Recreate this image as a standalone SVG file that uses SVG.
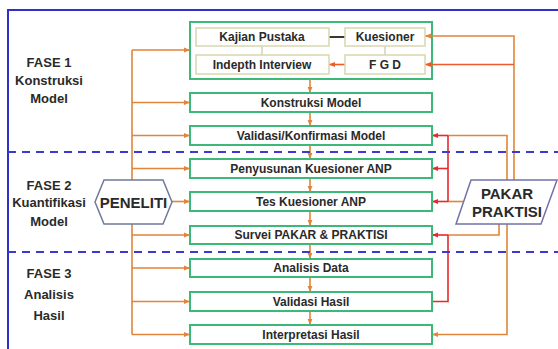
<svg xmlns="http://www.w3.org/2000/svg" width="558" height="349" viewBox="0 0 558 349">
<defs>
<style>
.t{font-family:"Liberation Sans",Arial,sans-serif;font-weight:bold;fill:#2a2a2a;text-anchor:middle}
.bx{font-size:12px}
.ph{font-size:13px}
.box{fill:#fff;stroke:#3cb878;stroke-width:2}
.ib{fill:#fff;stroke:#d8d8ae;stroke-width:1.5}
.o{fill:none;stroke:#e0853a;stroke-width:1.6}
.r{fill:none;stroke:#e8282e;stroke-width:1.6}
.dash{stroke:#3a3ad0;stroke-width:2;stroke-dasharray:8 6}
</style>
<marker id="ao" viewBox="0 0 10 10" refX="10" refY="5" markerWidth="6" markerHeight="6" orient="auto" markerUnits="userSpaceOnUse"><path d="M0,1 L10,5 L0,9 z" fill="#e0853a"/></marker>
<marker id="ar" viewBox="0 0 10 10" refX="10" refY="5" markerWidth="6" markerHeight="6" orient="auto" markerUnits="userSpaceOnUse"><path d="M0,1 L10,5 L0,9 z" fill="#e8282e"/></marker>
<marker id="af" viewBox="0 0 10 10" refX="10" refY="5" markerWidth="6" markerHeight="6" orient="auto" markerUnits="userSpaceOnUse"><path d="M0,1 L10,5 L0,9 z" fill="#ee5a2a"/></marker>
</defs>
<rect x="0" y="0" width="558" height="349" fill="#fff"/>
<rect x="8" y="10" width="560" height="350" fill="none" stroke="#3030c8" stroke-width="2"/>

<g id="phases">
<text class="t ph" x="49" y="67">FASE 1</text>
<text class="t ph" x="49" y="85">Konstruksi</text>
<text class="t ph" x="49" y="103">Model</text>
<text class="t ph" x="49" y="190">FASE 2</text>
<text class="t ph" x="49" y="207">Kuantifikasi</text>
<text class="t ph" x="49" y="226">Model</text>
<text class="t ph" x="49" y="278">FASE 3</text>
<text class="t ph" x="49" y="299">Analisis</text>
<text class="t ph" x="49" y="320">Hasil</text>
</g>

<g id="group1">
<rect class="box" x="190" y="22" width="242" height="57"/>
</g>

<g id="connectors">
<path class="o" d="M132,50 V334.5"/>
<path class="o" d="M132,50 H190" marker-end="url(#ao)"/>
<path class="o" d="M132,102.5 H190" marker-end="url(#ao)"/>
<path class="o" d="M132,135.5 H190" marker-end="url(#ao)"/>
<path class="o" d="M132,168.5 H190" marker-end="url(#ao)"/>
<path class="o" d="M172,201.5 H190" marker-end="url(#ao)"/>
<path class="o" d="M132,235 H190" marker-end="url(#ao)"/>
<path class="o" d="M132,268 H190" marker-end="url(#ao)"/>
<path class="o" d="M132,301.5 H190" marker-end="url(#ao)"/>
<path class="o" d="M132,334.5 H190" marker-end="url(#ao)"/>
<path class="o" d="M310,79 V93" marker-end="url(#ao)"/>
<path class="o" d="M310,112 V126" marker-end="url(#ao)"/>
<path class="o" d="M310,145 V159" marker-end="url(#ao)"/>
<path class="o" d="M310,178 V192" marker-end="url(#ao)"/>
<path class="o" d="M310,211 V226" marker-end="url(#ao)"/>
<path class="o" d="M310,244 V259" marker-end="url(#ao)"/>
<path class="o" d="M310,277 V292" marker-end="url(#ao)"/>
<path class="o" d="M310,311 V325" marker-end="url(#ao)"/>
<path d="M329,37 H345" stroke="#222" stroke-width="1.8"/>
<path d="M262,46 V55" stroke="#b8b8a0" stroke-width="1"/>
<path d="M385,46 V55" stroke="#b8b8a0" stroke-width="1"/>
<path d="M345,64.5 H329" stroke="#ee5a2a" stroke-width="1.6" marker-end="url(#af)"/>
<path class="o" d="M514,180 V36 H425" marker-end="url(#ao)"/>
<path d="M514,64.5 H425" fill="none" stroke="#ee5a2a" stroke-width="1.6" marker-end="url(#af)"/>
<path class="o" d="M507,180 V135.5 H448"/>
<path class="o" d="M463,201.5 H448"/>
<path class="r" d="M448,135.5 V201.5"/>
<path class="r" d="M448,135.5 H432" marker-end="url(#ar)"/>
<path class="r" d="M448,168.5 H432" marker-end="url(#ar)"/>
<path class="r" d="M448,201.5 H432" marker-end="url(#ar)"/>
<path class="o" d="M499,224 V235 H448"/>
<path class="r" d="M448,235 H432" marker-end="url(#ar)"/>
<path class="r" d="M448,235 V301.5 H432"/>
<path class="o" d="M507,224 V334.5 H432" marker-end="url(#ao)"/>
</g>

<g id="dividers">
<line class="dash" x1="8" y1="152" x2="558" y2="152"/>
<line class="dash" x1="8" y1="252" x2="558" y2="252"/>
</g>

<g id="kajian"><rect class="ib" x="196" y="28" width="133" height="18"/><text class="t bx" x="262" y="41">Kajian Pustaka</text></g>
<g id="kuesioner"><rect class="ib" x="345" y="28" width="80" height="18"/><text class="t bx" x="385" y="41">Kuesioner</text></g>
<g id="indepth"><rect class="ib" x="196" y="55" width="133" height="19"/><text class="t bx" x="262" y="69">Indepth Interview</text></g>
<g id="fgd"><rect class="ib" x="345" y="55" width="80" height="19"/><text class="t bx" x="385" y="69">F G D</text></g>

<g id="konstruksi"><rect class="box" x="190" y="93" width="242" height="19"/><text class="t bx" x="311" y="107">Konstruksi Model</text></g>
<g id="validasi"><rect class="box" x="190" y="126" width="242" height="19"/><text class="t bx" x="311" y="140">Validasi/Konfirmasi Model</text></g>
<g id="penyusunan"><rect class="box" x="190" y="159" width="242" height="19"/><text class="t bx" x="311" y="173">Penyusunan Kuesioner ANP</text></g>
<g id="tes"><rect class="box" x="190" y="192" width="242" height="19"/><text class="t bx" x="311" y="206">Tes Kuesioner ANP</text></g>
<g id="survei"><rect class="box" x="190" y="226" width="242" height="18"/><text class="t bx" x="311" y="239">Survei PAKAR &amp; PRAKTISI</text></g>
<g id="analisis"><rect class="box" x="190" y="259" width="242" height="18"/><text class="t bx" x="311" y="272">Analisis Data</text></g>
<g id="validasihasil"><rect class="box" x="190" y="292" width="242" height="19"/><text class="t bx" x="311" y="306">Validasi Hasil</text></g>
<g id="interpretasi"><rect class="box" x="190" y="325" width="242" height="19"/><text class="t bx" x="311" y="339">Interpretasi Hasil</text></g>

<g id="peneliti">
<polygon points="95,202 104,180 163,180 172,202 163,224 104,224" fill="#fff" stroke="#6f7a9a" stroke-width="1.5"/>
<text class="t" x="133.5" y="207.5" font-size="15">PENELITI</text>
</g>
<g id="pakar">
<polygon points="471,180 557,180 541,224 456,224" fill="#fff" stroke="#7272a8" stroke-width="1.5"/>
<text class="t" x="507" y="199" font-size="15">PAKAR</text>
<text class="t" x="507" y="217" font-size="15">PRAKTISI</text>
</g>
</svg>
